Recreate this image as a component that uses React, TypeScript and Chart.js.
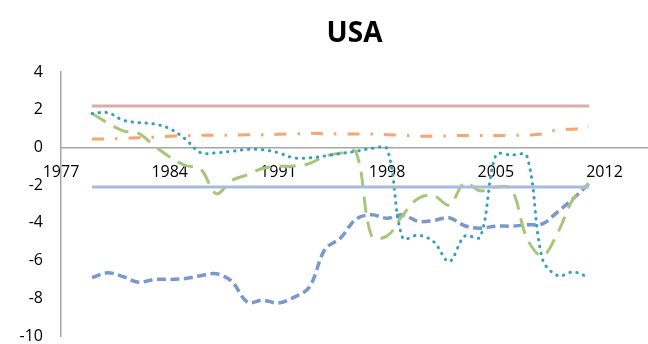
import { useEffect, useRef } from "react";
import { Chart, registerables } from "chart.js";

Chart.register(...registerables);

// Years covered by the data series
const years = [
  1979, 1980, 1981, 1982, 1983, 1984, 1985, 1986, 1987, 1988, 1989,
  1990, 1991, 1992, 1993, 1994, 1995, 1996, 1997, 1998, 1999, 2000,
  2001, 2002, 2003, 2004, 2005, 2006, 2007, 2008, 2009, 2010, 2011,
];

// Labelled positions on the horizontal axis
const xTickLabels = [1977, 1984, 1991, 1998, 2005, 2012];

// Horizontal reference bands (start and end year)
const bandYears = [1979, 2011];
const upperBand = [2.2, 2.2];
const lowerBand = [-2.1, -2.1];

// Blue dashed series
const blueDashed = [
  -6.9, -6.65, -6.85, -7.15, -7.0, -7.0, -6.95, -6.8, -6.7, -7.1, -8.2,
  -8.1, -8.25, -7.95, -7.4, -5.4, -4.8, -3.8, -3.57, -3.75, -3.57, -3.92,
  -3.87, -3.73, -4.15, -4.28, -4.17, -4.17, -4.1, -4.05, -3.4, -2.7, -1.93,
];

// Teal dotted series
const tealDotted = [
  1.8, 1.85, 1.45, 1.32, 1.25, 1.0, 0.45, -0.28, -0.28, -0.2, -0.1,
  -0.12, -0.28, -0.55, -0.55, -0.45, -0.32, -0.2, -0.05, -0.08, -4.8, -4.65,
  -5.0, -6.05, -4.7, -4.75, -0.42, -0.4, -0.45, -5.9, -6.8, -6.6, -6.9,
];

// Green long-dash series
const greenDashed = [
  1.8, 1.3, 0.88, 0.75, 0.1, -0.5, -0.95, -1.15, -2.45, -1.75, -1.45,
  -1.1, -1.0, -0.98, -0.85, -0.45, -0.3, -0.25, -4.7, -4.7, -3.6, -2.7,
  -2.55, -3.05, -1.87, -2.3, -2.1, -2.2, -4.8, -5.75, -4.5, -2.7, -1.9,
];

// Orange dash-dot series
const orangeDashDot = [
  0.45, 0.45, 0.48, 0.52, 0.55, 0.6, 0.62, 0.65, 0.65, 0.65, 0.67,
  0.67, 0.7, 0.72, 0.75, 0.73, 0.72, 0.72, 0.72, 0.68, 0.65, 0.6,
  0.6, 0.62, 0.64, 0.64, 0.64, 0.64, 0.66, 0.72, 0.95, 0.97, 1.08,
];

const toPoints = (xs: number[], ys: number[]) =>
  xs.map((x, i) => ({ x, y: ys[i] }));

const FONT = "'Open Sans', 'DejaVu Sans', sans-serif";
const AXIS_GRAY = "#A6A6A6";

export default function App() {
  const canvasRef = useRef<HTMLCanvasElement | null>(null);

  useEffect(() => {
    const canvas = canvasRef.current;
    if (!canvas) return;

    Chart.defaults.font.family = FONT;

    const chart = new Chart(canvas, {
      type: "line",
      data: {
        datasets: [
          {
            label: "Upper band",
            data: toPoints(bandYears, upperBand),
            borderColor: "rgb(220,172,172)",
            borderWidth: 3,
            pointRadius: 0,
          },
          {
            label: "Lower band",
            data: toPoints(bandYears, lowerBand),
            borderColor: "rgb(168,187,216)",
            borderWidth: 3,
            pointRadius: 0,
          },
          {
            label: "Orange",
            data: toPoints(years, orangeDashDot),
            borderColor: "rgb(250,165,110)",
            borderWidth: 3,
            borderDash: [12, 11, 2.5, 11],
            pointRadius: 0,
            tension: 0.35,
          },
          {
            label: "Teal",
            data: toPoints(years, tealDotted),
            borderColor: "rgb(52,160,192)",
            borderWidth: 3,
            borderDash: [0.5, 6.5],
            borderCapStyle: "round",
            pointRadius: 0,
            tension: 0.35,
          },
          {
            label: "Green",
            data: toPoints(years, greenDashed),
            borderColor: "rgb(168,198,122)",
            borderWidth: 3,
            borderDash: [16, 9],
            pointRadius: 0,
            tension: 0.35,
          },
          {
            label: "Blue",
            data: toPoints(years, blueDashed),
            borderColor: "rgb(122,152,204)",
            borderWidth: 3.5,
            borderDash: [9, 4.5],
            pointRadius: 0,
            tension: 0.35,
          },
        ],
      },
      options: {
        animation: false,
        responsive: false,
        devicePixelRatio: 1,
        layout: { padding: 0 },
        plugins: {
          legend: { display: false },
          tooltip: { enabled: false },
          title: {
            display: true,
            text: "USA",
            fullSize: false,
            color: "#000",
            font: { family: FONT, size: 28, weight: "bold" },
            padding: { top: 17, bottom: 21.5 },
          },
        },
        scales: {
          x: {
            type: "linear",
            min: 1977,
            max: 2014.8,
            position: { y: 0 },
            grid: { display: false, drawTicks: false },
            border: { display: true, color: AXIS_GRAY, width: 1.5 },
            ticks: {
              padding: 15,
              color: "#000",
              font: { family: FONT, size: 16 },
              callback: (v) => String(v),
            },
            afterBuildTicks: (scale) => {
              scale.ticks = xTickLabels.map((v) => ({ value: v }));
            },
          },
          y: {
            type: "linear",
            min: -10,
            max: 4,
            grid: { display: false, drawTicks: false },
            border: { display: true, color: AXIS_GRAY, width: 1.5 },
            ticks: {
              stepSize: 2,
              padding: 18,
              color: "#000",
              font: { family: FONT, size: 16 },
            },
            afterFit: (scale) => {
              scale.width = 61;
              scale.paddingTop = 0;
              scale.paddingBottom = 8;
            },
          },
        },
      },
    });

    return () => chart.destroy();
  }, []);

  return (
    <div
      style={{
        position: "fixed",
        left: 0,
        top: 0,
        width: 648,
        height: 344,
        background: "#fff",
      }}
    >
      <canvas ref={canvasRef} width={648} height={344} />
    </div>
  );
}
